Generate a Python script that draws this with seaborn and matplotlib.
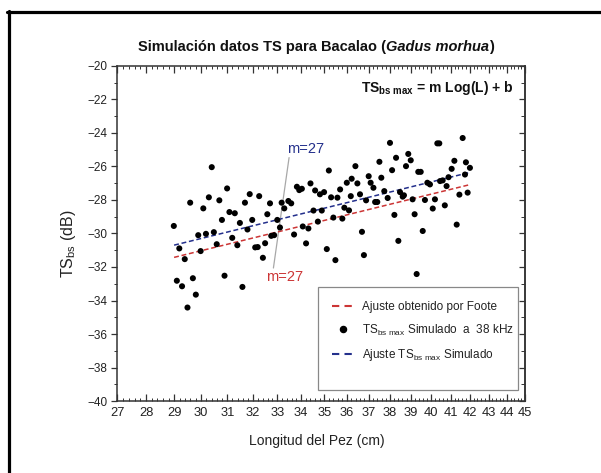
import numpy as np
import pandas as pd
import matplotlib
matplotlib.use("Agg")
import matplotlib.pyplot as plt
import seaborn as sns
from matplotlib.ticker import FixedLocator, FixedFormatter, NullFormatter
from matplotlib.lines import Line2D
from matplotlib.patches import Rectangle
from matplotlib.transforms import offset_copy

# ---------------- data ----------------
length_cm = [30.40, 30.99, 29.59, 30.29, 30.69, 30.08, 31.88, 32.26, 31.69, 31.08,
             31.29, 30.79, 31.49, 31.98, 28.99, 29.89, 30.18, 30.48, 31.19, 31.79,
             29.19, 29.39, 29.98, 30.59, 31.39, 32.10, 32.20, 29.10, 29.29, 29.69,
             29.80, 29.49, 30.89, 31.59,
             35.20, 36.39, 32.70, 32.59, 33.18, 33.29, 33.46, 33.58, 33.82, 33.92,
             34.03, 34.40, 34.60, 34.81, 34.99, 35.30, 35.58, 35.70, 36.00, 36.22,
             36.48, 36.18, 33.00, 33.11, 33.70, 34.07, 34.31, 34.53, 34.89, 34.72,
             35.40, 35.80, 35.89, 36.10, 32.87, 32.75, 32.50, 32.41, 34.21, 35.11,
             35.49,
             38.00, 40.32, 40.42, 41.62, 37.50, 38.29, 38.88, 39.00, 38.10, 38.77,
             39.37, 39.49, 37.00, 37.09, 37.22, 37.59, 36.60, 36.88, 37.30, 37.40,
             37.73, 37.89, 38.48, 38.61, 38.67, 39.09, 39.70, 39.82, 39.95, 40.20,
             40.46, 40.59, 40.79, 40.89, 41.05, 41.19, 41.74, 41.79, 41.88, 41.45,
             40.09, 40.70, 38.21, 39.19, 39.59, 41.31, 36.69, 38.40, 36.78, 39.29,
             42.00]
ts_db = [-26.04, -27.31, -28.16, -27.84, -28.02, -28.50, -27.65, -27.77, -28.16, -28.72,
         -28.79, -29.19, -29.37, -29.19, -29.55, -30.10, -30.02, -29.92, -30.26, -29.76,
         -30.89, -31.53, -31.05, -30.64, -30.70, -30.83, -30.81, -32.82, -33.15, -32.67,
         -33.65, -34.42, -32.52, -33.19,
         -26.24, -25.98, -28.20, -28.85, -28.16, -28.50, -28.06, -28.20, -27.21, -27.41,
         -27.33, -27.01, -27.43, -27.66, -27.53, -27.84, -27.86, -27.37, -26.97, -26.73,
         -27.01, -27.77, -29.19, -29.64, -30.06, -29.58, -29.70, -28.63, -28.63, -29.29,
         -29.05, -29.11, -28.46, -28.62, -30.10, -30.14, -30.58, -31.45, -30.59, -30.93,
         -31.59,
         -24.59, -24.62, -24.62, -24.30, -25.72, -25.48, -25.25, -25.63, -26.22, -25.98,
         -26.32, -26.32, -26.58, -26.97, -27.27, -26.67, -27.66, -28.02, -28.12, -28.12,
         -27.47, -27.88, -27.53, -27.80, -27.72, -27.96, -28.00, -26.97, -27.07, -27.96,
         -26.87, -26.83, -27.17, -26.64, -26.14, -25.66, -26.48, -25.75, -27.56, -27.68,
         -28.51, -28.32, -28.89, -28.85, -29.85, -29.47, -29.90, -30.44, -31.29, -32.42,
         -26.08]

fit_range_cm = [29.0, 42.0]
slope_m = 27.0
intercept_foote = -70.91
intercept_sim = -70.18

x_ticks = list(range(27, 46))
y_ticks = list(range(-40, -19, 2))

title_main = "Simulación datos TS para Bacalao ("
title_species = "Gadus morhua"
title_close = ")"
formula_txt = r"TS$_{\mathregular{bs\ max}}$ = m Log(L) + b"
xlabel_txt = "Longitud del Pez (cm)"
ylabel_txt = r"TS$_{\mathregular{bs}}$ (dB)"
legend_labels = ["Ajuste obtenido por Foote",
                 r"TS$_{\mathregular{bs\ max}}$ Simulado  a  38 kHz",
                 r"Ajuste TS$_{\mathregular{bs\ max}}$ Simulado"]
m_label = "m=27"

# ---------------- style ----------------
sns.set_style("white")
plt.rcParams["font.family"] = ["Liberation Sans", "DejaVu Sans"]
plt.rcParams["mathtext.fontset"] = "custom"
plt.rcParams["mathtext.rm"] = "Liberation Sans"
plt.rcParams["mathtext.it"] = "Liberation Sans:italic"
plt.rcParams["mathtext.bf"] = "Liberation Sans:bold"
FONT = ["Liberation Sans", "DejaVu Sans"]

RED = "#cc3535"
BLUE = "#24308c"
SPINE = "#333333"
TXT = "#222222"

fig = plt.figure(figsize=(6.01, 4.73), dpi=100)
ax = fig.add_axes([0.1947, 0.1522, 0.6789, 0.7083])

df = pd.DataFrame({"L": length_cm, "TS": ts_db})
line_x = np.linspace(fit_range_cm[0], fit_range_cm[1], 30)
df_lines = pd.DataFrame({
    "L": line_x,
    "foote": slope_m * np.log10(line_x) + intercept_foote,
    "sim": slope_m * np.log10(line_x) + intercept_sim,
})

sns.lineplot(data=df_lines, x="L", y="foote", ax=ax, color=RED, lw=1.1,
             linestyle=(0, (3.2, 1.8)), zorder=2)
sns.lineplot(data=df_lines, x="L", y="sim", ax=ax, color=BLUE, lw=1.1,
             linestyle=(0, (3.2, 1.8)), zorder=2)
sns.scatterplot(data=df, x="L", y="TS", ax=ax, color="black", s=19,
                edgecolor="none", linewidth=0, zorder=3, legend=False)

ax.set_xscale("log")
ax.set_xlim(27, 45)
ax.set_ylim(-40, -20)
ax.xaxis.set_major_locator(FixedLocator(x_ticks))
ax.xaxis.set_major_formatter(FixedFormatter([str(v) for v in x_ticks]))
ax.xaxis.set_minor_locator(FixedLocator(np.arange(27, 45.001, 0.2)))
ax.xaxis.set_minor_formatter(NullFormatter())
ax.yaxis.set_major_locator(FixedLocator(y_ticks))
ax.yaxis.set_minor_locator(FixedLocator(range(-40, -19)))

for sp in ax.spines.values():
    sp.set_color(SPINE)
    sp.set_linewidth(1.1)

ax.tick_params(axis="x", which="both", direction="in", top=True, bottom=True,
               color=SPINE, pad=4)
ax.tick_params(axis="x", which="major", length=5, width=0.9)
ax.tick_params(axis="x", which="minor", length=2.5, width=0.7)
ax.tick_params(axis="y", which="both", direction="out", left=True, right=False,
               color=SPINE, pad=2.5)
ax.tick_params(axis="y", which="major", length=4.5, width=0.9)
ax.tick_params(axis="y", which="minor", length=2.5, width=0.7)

sec = ax.secondary_yaxis("right")
sec.yaxis.set_major_locator(FixedLocator(y_ticks))
sec.yaxis.set_minor_locator(FixedLocator(range(-40, -19)))
sec.tick_params(which="both", direction="in", labelright=False, color=SPINE)
sec.tick_params(which="major", length=4.5, width=0.9)
sec.tick_params(which="minor", length=3, width=0.7)
sec.spines["right"].set_color(SPINE)
sec.spines["right"].set_linewidth(1.1)

for lab in ax.get_xticklabels():
    lab.set_fontfamily(FONT)
    lab.set_fontsize(9.3)
    lab.set_color(TXT)
for lab in ax.get_yticklabels():
    lab.set_fontfamily(FONT)
    lab.set_fontsize(8.5)
    lab.set_color(TXT)

ax.set_xlabel(xlabel_txt, fontfamily=FONT, fontsize=10, color=TXT)
ax.set_ylabel(ylabel_txt, fontfamily=FONT, fontsize=11.5, color=TXT)
ax.xaxis.set_label_coords(0.49, -0.097)
ax.yaxis.set_label_coords(-0.096, 0.47)

# title: bold part + bold italic species name
fig.canvas.draw()
renderer = fig.canvas.get_renderer()
t1 = ax.text(0.052, 1.057, title_main, transform=ax.transAxes, ha="left",
             va="center", fontsize=10.5, fontweight="bold", color="#111111")
w1 = t1.get_window_extent(renderer).width
t2 = ax.text(0.052, 1.057, title_species,
             transform=offset_copy(ax.transAxes, fig=fig, x=w1, y=0, units="dots"),
             ha="left", va="center", fontsize=10.5, fontweight="bold",
             fontstyle="italic", color="#111111")
w2 = t2.get_window_extent(renderer).width
ax.text(0.052, 1.057, title_close,
        transform=offset_copy(ax.transAxes, fig=fig, x=w1 + w2, y=0, units="dots"),
        ha="left", va="center", fontsize=10.5, fontweight="bold", color="#111111")

ax.text(0.971, 0.922, formula_txt, transform=ax.transAxes, ha="right",
        va="baseline", fontsize=10, fontweight="bold", color="#111111")

# leader line and m labels
ax.plot([33.49, 32.84], [-25.47, -32.06], color="#a8a8a8", lw=0.9, zorder=1)
ax.text(34.17, -24.93, m_label, color=BLUE, fontfamily=FONT, fontsize=10.5,
        ha="center", va="center")
ax.text(33.32, -32.6, m_label, color=RED, fontfamily=FONT, fontsize=10.5,
        ha="center", va="center")

# legend
handles = [
    Line2D([], [], color=RED, lw=1.5, linestyle=(0, (3.5, 2.5))),
    Line2D([], [], color="black", marker="o", ms=4.4, linestyle="none"),
    Line2D([], [], color=BLUE, lw=1.5, linestyle=(0, (3.5, 2.5))),
]
leg = ax.legend(handles, legend_labels, loc="upper left",
                bbox_to_anchor=(0.527, 0.298), frameon=False, borderpad=0,
                borderaxespad=0, handlelength=1.9, handletextpad=0.6,
                labelspacing=0.8, prop={"family": FONT, "size": 8.5})
for t in leg.get_texts():
    t.set_color(TXT)
ax.add_patch(Rectangle((0.493, 0.033), 0.49, 0.307, transform=ax.transAxes,
                       fill=False, edgecolor="#888888", lw=0.9, zorder=4))

# outer frame of the figure (cropped at right and bottom)
fig.add_artist(Line2D([7 / 601, 1.0], [1 - 12.5 / 473, 1 - 12.5 / 473],
                      transform=fig.transFigure, color="black", lw=2.3))
fig.add_artist(Line2D([8.5 / 601, 8.5 / 601], [0.0, 1 - 11 / 473],
                      transform=fig.transFigure, color="black", lw=2.3))

fig.savefig("out.png", dpi=100)
